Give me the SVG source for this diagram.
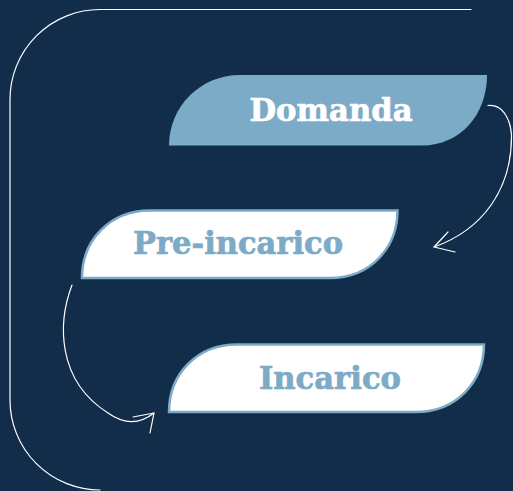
<svg xmlns="http://www.w3.org/2000/svg" width="513" height="491" viewBox="0 0 513 491">
<style>
.lbl{font-family:"DejaVu Serif","Liberation Serif",serif;font-weight:bold;text-anchor:middle;stroke-width:0.7}
.line{fill:none;stroke:#ffffff;stroke-width:1.2;stroke-linecap:round;stroke-linejoin:round}
.box{stroke:#7cabc7;stroke-width:2.5}
</style>
<rect width="513" height="491" fill="#122d4a"/>
<path class="line" d="M471,9.5 H100 A90,90 0 0 0 10,99.5 V400 A90,90 0 0 0 100,490"/>
<g id="domanda">
<path d="M169,145.5 C169,107 200,75 240,75 H487 C487,115 460,145.5 422,145.5 Z" fill="#7cabc7"/>
<text class="lbl" x="331" y="121" font-size="31" fill="#ffffff" stroke="#ffffff" textLength="163" lengthAdjust="spacingAndGlyphs">Domanda</text>
</g>
<g id="pre-incarico">
<path class="box" d="M82,278 C82,240 110,210.5 150,210.5 H397.5 C397.5,248 370,278 330,278 Z" fill="#ffffff"/>
<text class="lbl" x="238" y="254" font-size="31" fill="#7cabc7" stroke="#7cabc7" textLength="210" lengthAdjust="spacingAndGlyphs">Pre-incarico</text>
</g>
<g id="incarico">
<path class="box" d="M169,412 C169,374 197,344.5 237,344.5 H484 C484,382 456,412 416,412 Z" fill="#ffffff"/>
<text class="lbl" x="330" y="389" font-size="31" fill="#7cabc7" stroke="#7cabc7" textLength="142" lengthAdjust="spacingAndGlyphs">Incarico</text>
</g>
<g id="connectors">
<path class="line" d="M488,105.5 C501,104 510,116 511.5,135 C512,190 482,230 434,247"/>
<path class="line" d="M448,232 L434,247 L455,252"/>
<path class="line" d="M72,285 C58,322 56,380 108,413 C125,425 140,424 154,413"/>
<path class="line" d="M133,417 L154,413 L150,433"/>
</g>
</svg>
